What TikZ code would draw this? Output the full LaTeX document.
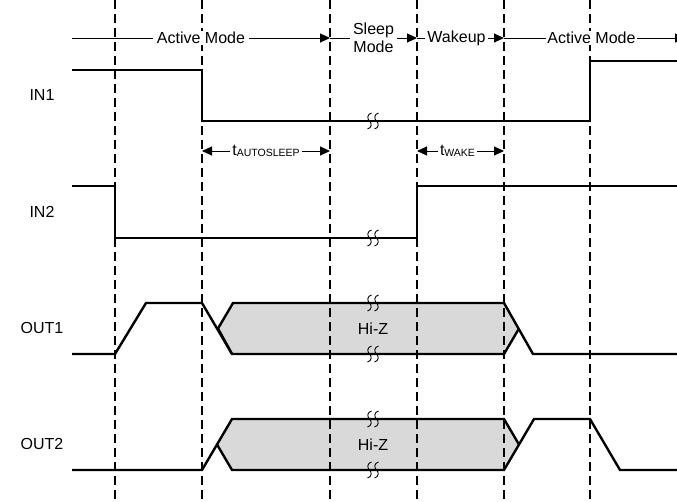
\documentclass[tikz,border=0pt]{standalone}
\usepackage{fontspec}
\setmainfont{Liberation Sans}
\usetikzlibrary{arrows.meta}
\begin{document}
\begin{tikzpicture}[x=1pt,y=-1pt,
  font=\fontsize{16}{19}\selectfont,
  guide/.style={line width=1.1pt, dash pattern=on 9pt off 5pt},
  wave/.style={line width=2.4pt, line join=miter, line cap=butt},
  hiz/.style={fill=black!15, draw=none},
  span/.style={line width=1pt, -{Triangle[length=10pt,width=9pt]}},
  both/.style={line width=1pt, {Triangle[length=10pt,width=9pt]}-{Triangle[length=10pt,width=9pt]}},
  tag/.style={fill=white, inner xsep=4pt, inner ysep=1pt},
  sig/.style={anchor=center},
  brk/.pic={
    \draw[line width=0.9pt] (-1.5,-8) .. controls (-6,-7) and (-6,-2) .. (-3.5,0)
       .. controls (-1,2) and (-1,7) .. (-5.5,8);
    \draw[line width=0.9pt] (5.5,-8) .. controls (1,-7) and (1,-2) .. (3.5,0)
       .. controls (6,2) and (6,7) .. (1.5,8);
  }]
\useasboundingbox (0,0) rectangle (677,501);
\clip (0,0) rectangle (677,501);

% high-impedance regions
\fill[hiz] (218,328.5) -- (233,303) -- (504,303) -- (519,328.5) -- (504,354) -- (232,354) -- cycle;
\fill[hiz] (217,444.5) -- (232,419) -- (504,419) -- (519,444.5) -- (504,470) -- (232,470) -- cycle;

% timing guides
\foreach \gx/\gn in {115/g1,202/g2,330/g3,417/g4,504/g5,590/g6}{
  \draw[guide] (\gx,0) -- (\gx,501);
  \coordinate (\gn) at (\gx,38);
  \coordinate (\gn t) at (\gx,151);
}
\coordinate (hstart) at (72,38);
\coordinate (hend) at (685,38);

% IN1
\draw[wave] (72,70) -- (202,70) -- (202,121) -- (590,121) -- (590,61) -- (677,61);
% IN2
\draw[wave] (72,186) -- (115,186) -- (115,238) -- (417,238) -- (417,186) -- (677,186);
% OUT1
\draw[wave] (72,354) -- (115,354) -- (146,303) -- (202,303) -- (232,354);
\draw[wave] (218,328.5) -- (233,303) -- (504,303) -- (533,354) -- (677,354);
\draw[wave] (218,328.5) -- (232,354) -- (504,354) -- (519,328.5);
% OUT2
\draw[wave] (72,470) -- (202,470) -- (217,444.5) -- (232,419) -- (504,419) -- (519,444.5);
\draw[wave] (217,444.5) -- (232,470) -- (504,470) -- (534,419) -- (590,419) -- (620,470) -- (677,470);

% break marks
\foreach \by in {121,238,303,354,419,470}{
  \pic at (373,\by) {brk};
}

% signal names
\node[sig] (in1) at (42,95) {IN1};
\node[sig] (in2) at (42,212) {IN2};
\node[sig] (out1) at (42,328) {OUT1};
\node[sig] (out2) at (42,444) {OUT2};
\node (hz1) at (373,329) {Hi-Z};
\node (hz2) at (373,445) {Hi-Z};

% operating modes
\draw[span] (hstart) -- node[tag] (m1) {Active Mode} (g3);
\draw[span] (g3) -- node[tag, align=center, inner xsep=3pt, font=\fontsize{16}{18}\selectfont] (m2) {Sleep\\Mode} (g4);
\draw[span] (g4) -- node[tag, inner xsep=2pt, xshift=-4pt] (m3) {Wakeup} (g5);
\draw[span] (g5) -- node[tag, inner xsep=1pt, xshift=-3pt] (m4) {Active Mode} (hend);

% timing parameters
\draw[both] (g2t) -- node[tag, inner xsep=2pt] (ta) {t\raisebox{-1.5pt}{\fontsize{10.5}{12}\selectfont AUTOSLEEP}} (g3t);
\draw[both] (g4t) -- node[tag, inner xsep=2pt, xshift=-3pt] (tw) {t\raisebox{-1.5pt}{\fontsize{10.5}{12}\selectfont WAKE}} (g5t);
\end{tikzpicture}
\end{document}
